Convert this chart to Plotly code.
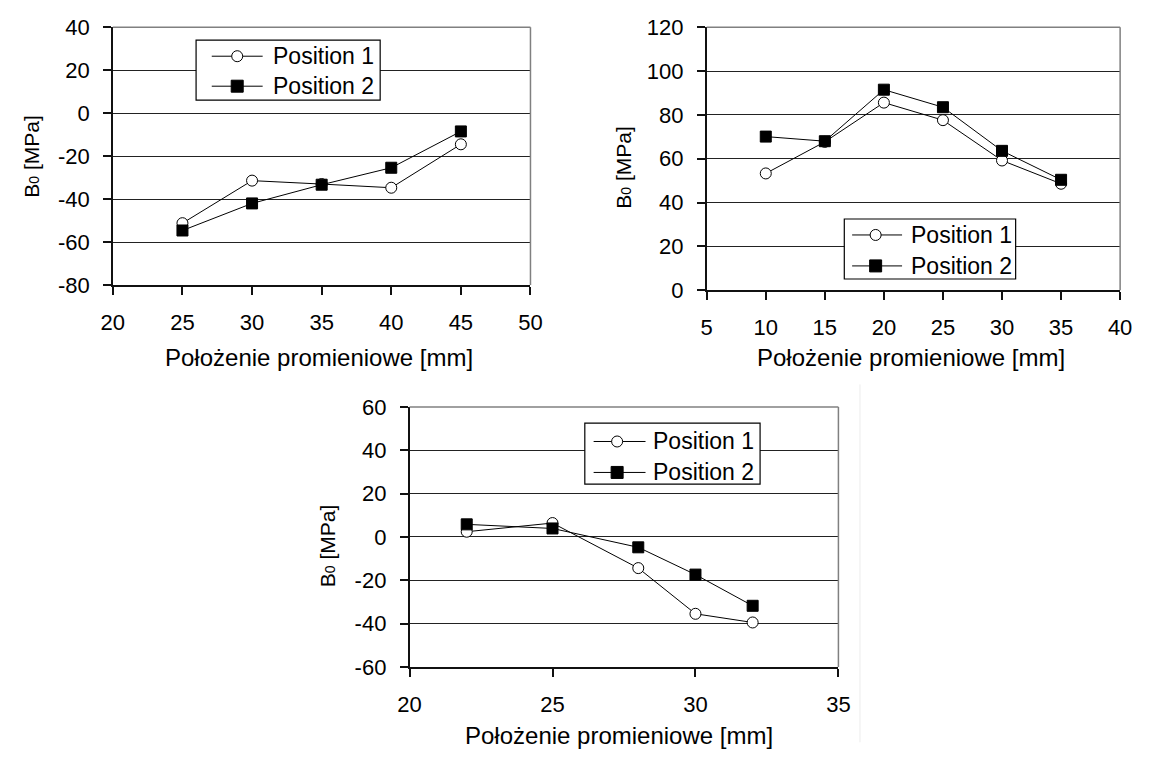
import plotly.graph_objects as go

# ---------------- data ----------------
tl_x = [25, 30, 35, 40, 45]
tl_p1 = [-51.2, -31.4, -33.0, -34.7, -14.5]
tl_p2 = [-54.6, -42.0, -33.3, -25.4, -8.5]

tr_x = [10, 15, 20, 25, 30, 35]
tr_p1 = [53.3, 67.7, 85.6, 77.6, 59.2, 48.6]
tr_p2 = [70.1, 68.0, 91.5, 83.5, 63.6, 50.4]

b_x = [22, 25, 28, 30, 32]
b_p1 = [2.4, 6.4, -14.4, -35.5, -39.5]
b_p2 = [5.8, 3.9, -4.8, -17.4, -31.8]

series_names = ["Position 1", "Position 2"]
x_title = "Położenie promieniowe [mm]"
y_title = "B<span style='font-size:14px'>0</span> [MPa]"

tl_xticks = [20, 25, 30, 35, 40, 45, 50]
tl_yticks = [-80, -60, -40, -20, 0, 20, 40]
tr_xticks = [5, 10, 15, 20, 25, 30, 35, 40]
tr_yticks = [0, 20, 40, 60, 80, 100, 120]
b_xticks = [20, 25, 30, 35]
b_yticks = [-60, -40, -20, 0, 20, 40, 60]

W, H = 1152, 765


def X(p):
    return p / W


def Y(p):
    return 1 - p / H


def labels(vals):
    # hyphen-minus as in the original
    return [str(v) for v in vals]


fig = go.Figure()

panels = [
    # (suffix, x, p1, p2, xticks, yticks, dom_px(l,t,r,b))
    ("", tl_x, tl_p1, tl_p2, tl_xticks, tl_yticks, (103, 15.7, 529.5, 282.3)),
    ("2", tr_x, tr_p1, tr_p2, tr_xticks, tr_yticks, (709.5, 15.7, 1131.7, 287.7)),
    ("3", b_x, b_p1, b_p2, b_xticks, b_yticks, (406, 408.3, 844, 677.0)),
]

p1_marker = dict(symbol="circle", size=11, color="white", line=dict(color="black", width=1))
p2_marker = dict(symbol="square", size=11, color="black", line=dict(color="black", width=1))

tick_font = dict(family="Liberation Sans, Arial, sans-serif", size=22, color="black")

layout_axes = {}
shapes = []
annotations = []

for suf, xs, p1, p2, xt, yt, (l, t, r, b) in panels:
    xa = "x" + suf
    ya = "y" + suf
    fig.add_trace(go.Scatter(x=xs, y=p1, mode="lines+markers", name=series_names[0],
                             line=dict(color="black", width=1), marker=p1_marker,
                             xaxis=xa, yaxis=ya, showlegend=False))
    fig.add_trace(go.Scatter(x=xs, y=p2, mode="lines+markers", name=series_names[1],
                             line=dict(color="black", width=1), marker=p2_marker,
                             xaxis=xa, yaxis=ya, showlegend=False))
    layout_axes["xaxis" + suf] = dict(
        domain=[X(l), X(r)], range=[xt[0], xt[-1]], tickmode="array",
        tickvals=xt, ticktext=labels(xt), anchor=ya,
        showgrid=False, zeroline=False, showline=True, linecolor="#111111", linewidth=1.5,
        ticks="outside", ticklen=8, tickwidth=1.5, tickcolor="#111111",
        tickfont=tick_font, ticklabelstandoff=9, fixedrange=True,
    )
    layout_axes["yaxis" + suf] = dict(
        domain=[Y(b), Y(t)], range=[yt[0], yt[-1]], tickmode="array",
        tickvals=yt, ticktext=labels(yt), anchor=xa,
        showgrid=True, gridcolor="#222222", gridwidth=1.2, zeroline=False,
        showline=True, linecolor="#111111", linewidth=1.5,
        ticks="outside", ticklen=8, tickwidth=1.5, tickcolor="#111111",
        tickfont=tick_font, ticklabelstandoff=9, fixedrange=True,
    )
    # gray plot-area border on top and right
    shapes.append(dict(type="line", xref="paper", yref="paper", x0=X(l), x1=X(r), y0=Y(t), y1=Y(t),
                       line=dict(color="#808080", width=1.5), layer="above"))
    shapes.append(dict(type="line", xref="paper", yref="paper", x0=X(r), x1=X(r), y0=Y(t), y1=Y(b),
                       line=dict(color="#808080", width=1.5), layer="above"))

# axis titles
title_font = dict(family="Liberation Sans, Arial, sans-serif", size=24, color="black")
ytitle_font = dict(family="Liberation Sans, Arial, sans-serif", size=21, color="black")
for cx, cy in [(314, 357), (918, 357), (620, 748)]:
    annotations.append(dict(text=x_title, x=X(cx), y=Y(cy), xref="paper", yref="paper",
                            xanchor="center", yanchor="middle", showarrow=False, font=title_font))
for cx, cy in [(20, 149), (625, 160), (323, 552)]:
    annotations.append(dict(text=y_title, x=X(cx), y=Y(cy), xref="paper", yref="paper",
                            xanchor="center", yanchor="middle", showarrow=False, font=ytitle_font,
                            textangle=-90))

# custom legends: box, line sample, marker, text
legend_font = dict(family="Liberation Sans, Arial, sans-serif", size=23, color="black")
legends = [
    # box l,t,r,b ; line x0,x1 ; marker x ; text x ; rows y
    ((188, 29, 376, 91), (204, 256), 230, 265, (45.7, 76.7)),
    ((850, 214, 1025, 276), (858, 909), 882, 916, (230.5, 262.5)),
    ((585, 425, 764, 488), (594, 647), 618, 653, (444, 476)),
]
for (bl, bt, br, bb), (lx0, lx1), mx, tx, rows in legends:
    shapes.append(dict(type="rect", xref="paper", yref="paper", x0=X(bl), x1=X(br), y0=Y(bb), y1=Y(bt),
                       line=dict(color="black", width=1.2), fillcolor="white", layer="above"))
    for i, ry in enumerate(rows):
        shapes.append(dict(type="line", xref="paper", yref="paper", x0=X(lx0), x1=X(lx1), y0=Y(ry), y1=Y(ry),
                           line=dict(color="black", width=1), layer="above"))
        if i == 0:
            shapes.append(dict(type="circle", xref="paper", yref="paper", xsizemode="pixel", ysizemode="pixel",
                               xanchor=X(mx), yanchor=Y(ry), x0=-5.5, x1=5.5, y0=-5.5, y1=5.5,
                               line=dict(color="black", width=1), fillcolor="white", layer="above"))
        else:
            shapes.append(dict(type="rect", xref="paper", yref="paper", xsizemode="pixel", ysizemode="pixel",
                               xanchor=X(mx), yanchor=Y(ry), x0=-6, x1=6, y0=-6, y1=6,
                               line=dict(color="black", width=1), fillcolor="black", layer="above"))
        annotations.append(dict(text=series_names[i], x=X(tx), y=Y(ry), xref="paper", yref="paper",
                                xanchor="left", yanchor="middle", showarrow=False, font=legend_font))

# faint image border line right of bottom chart
shapes.append(dict(type="line", xref="paper", yref="paper", x0=X(866), x1=X(866), y0=Y(385), y1=Y(755),
                   line=dict(color="#ececec", width=1), layer="below"))

fig.update_layout(
    width=W, height=H, margin=dict(l=0, r=0, t=0, b=0),
    paper_bgcolor="white", plot_bgcolor="white",
    shapes=shapes, annotations=annotations, showlegend=False,
    **layout_axes,
)

fig.write_html("out.html", config={"displayModeBar": False})
